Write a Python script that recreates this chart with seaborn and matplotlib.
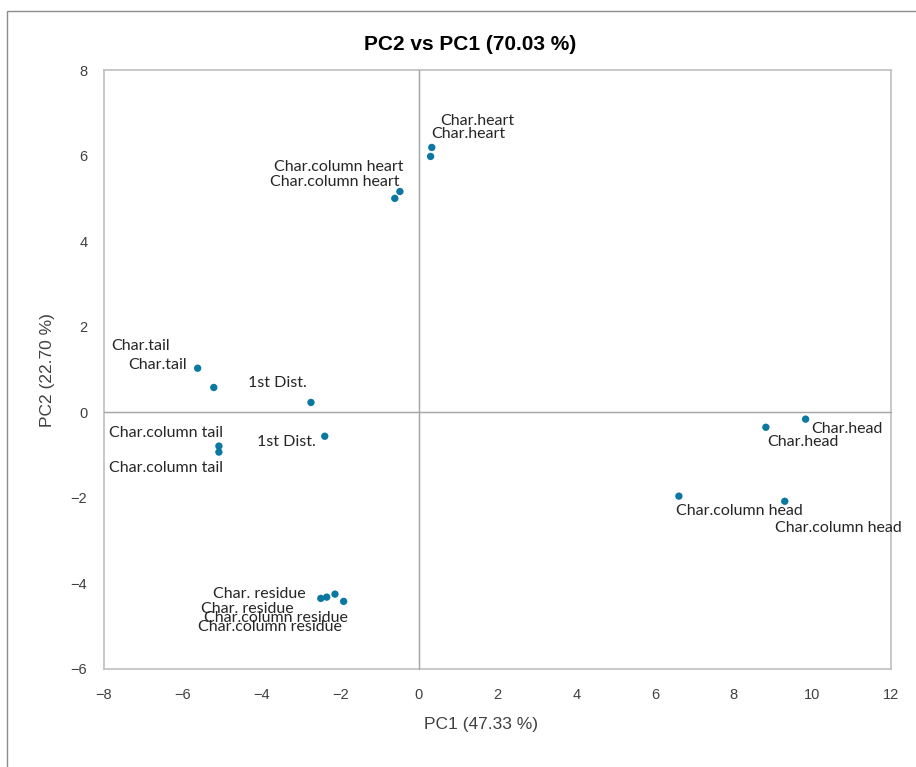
import matplotlib
matplotlib.use("Agg")
import matplotlib.pyplot as plt
import seaborn as sns
import pandas as pd
from matplotlib.patches import Rectangle

labels = ["Char.heart", "Char.heart",
          "Char.column heart", "Char.column heart",
          "Char.tail", "Char.tail",
          "1st Dist.", "1st Dist.",
          "Char.column tail", "Char.column tail",
          "Char. residue", "Char. residue", "Char.column residue", "Char.column residue",
          "Char.head", "Char.head",
          "Char.column head", "Char.column head"]
pc1 = [0.33, 0.30, -0.48, -0.61, -5.62, -5.21, -2.74, -2.39, -5.08, -5.08,
       -2.49, -2.34, -1.91, -2.13, 9.83, 8.82, 6.61, 9.30]
pc2 = [6.19, 5.98, 5.16, 5.00, 1.03, 0.58, 0.23, -0.56, -0.79, -0.93,
       -4.35, -4.32, -4.42, -4.25, -0.16, -0.35, -1.96, -2.08]

# label placement (pixel offsets from the point, alignment)
offsets = [(8, 26, "left"), (1, 22, "left"),
           (4, 25, "right"), (5, 16, "right"),
           (-28, 22, "right"), (-27, 22, "right"),
           (-4, 19, "right"), (-9, -6, "right"),
           (4, 13, "right"), (4, -16, "right"),
           (-15, 4, "right"), (-33, -12, "right"), (4, -17, "right"), (7, -33, "right"),
           (6, -10, "left"), (1, -15, "left"),
           (-3, -15, "left"), (-10, -27, "left")]

df = pd.DataFrame({"PC1": pc1, "PC2": pc2, "label": labels})

sns.set_style("white")
plt.rcParams["font.family"] = ["Liberation Sans", "DejaVu Sans"]

fig = plt.figure(figsize=(9.16, 7.67), dpi=100)
ax = fig.add_axes([104 / 916, 1 - 669 / 767, 787 / 916, 599 / 767])

sns.scatterplot(data=df, x="PC1", y="PC2", color="#0A78A0", s=28,
                edgecolor="none", ax=ax, zorder=3)

ax.axhline(0, color="#A6A6A6", lw=1, zorder=1)
ax.axvline(0, color="#A6A6A6", lw=1, zorder=1)

for x, y, t, (dx, dy, ha) in zip(pc1, pc2, labels, offsets):
    ax.annotate(t, (x, y), xytext=(dx, dy), textcoords="offset pixels",
                ha=ha, va="center", fontsize=11.5, color="#262626",
                family=["Lato", "DejaVu Sans"])

ax.set_xlim(-8, 12)
ax.set_ylim(-6, 8)
ax.set_xticks(range(-8, 13, 2))
ax.set_yticks(range(-6, 9, 2))
ax.tick_params(length=0, labelsize=10.5, colors="#404040", pad=12)
ax.tick_params(axis="x", pad=14)
for sp in ax.spines.values():
    sp.set_color("#BFBFBF")
    sp.set_linewidth(1.2)

ax.set_xlabel("PC1 (47.33 %)", fontsize=12.5, color="#404040")
ax.set_ylabel("PC2 (22.70 %)", fontsize=12.5, color="#404040")
ax.xaxis.set_label_coords((481 - 104) / 787, -(717 - 669) / 599)
ax.yaxis.set_label_coords(-(104 - 55) / 787, (669 - 370) / 599)
fig.text(470 / 916, 1 - 44 / 767, "PC2 vs PC1 (70.03 %)", ha="center", va="center",
         fontsize=15, fontweight="bold", color="#000000")

# tick marks along the zero axes
ax2 = fig.add_axes(ax.get_position(), sharex=ax, sharey=ax)
ax2.patch.set_visible(False)
ax2.spines["top"].set_visible(False)
ax2.spines["right"].set_visible(False)
ax2.spines["left"].set_position(("data", 0))
ax2.spines["bottom"].set_position(("data", 0))
ax2.spines["left"].set_color("#A6A6A6")
ax2.spines["bottom"].set_color("#A6A6A6")
ax2.tick_params(direction="inout", length=7, width=1, color="#A6A6A6",
                labelleft=False, labelbottom=False)

# outer chart frame
fig.patches.append(Rectangle((7 / 916, -0.1), 1.2, 1 - 11 / 767 + 0.1,
                             transform=fig.transFigure, fill=False,
                             edgecolor="#8C8C8C", lw=1))

fig.savefig("out.png", dpi=100)
